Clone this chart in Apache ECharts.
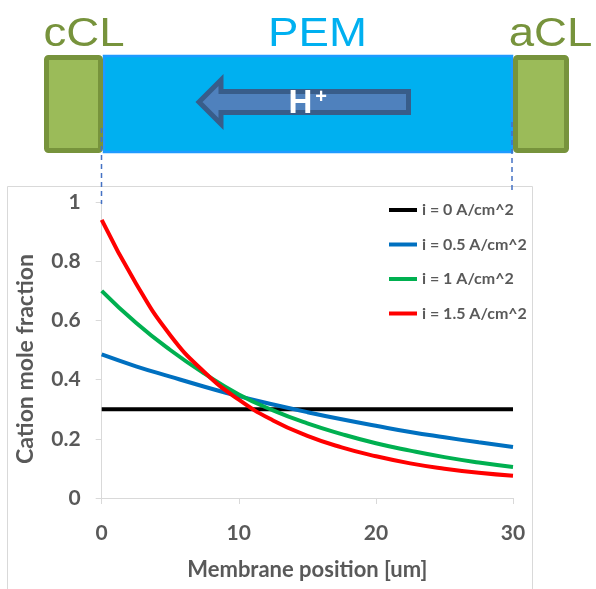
<!DOCTYPE html>
<html>
<head>
<meta charset="utf-8">
<script src="https://cdn.jsdelivr.net/npm/echarts@6/dist/echarts.min.js"></script>
<style>
html,body{margin:0;padding:0;background:#fff;}
#chart{width:596px;height:589px;}
</style>
</head>
<body>
<div id="chart"></div>
<script>
// ---- data ----
var positions = [0, 2.5, 5, 7.5, 10, 12.5, 15, 17.5, 20, 22.5, 25, 27.5, 30];
var seriesNames = ['i = 0 A/cm^2', 'i = 0.5 A/cm^2', 'i = 1 A/cm^2', 'i = 1.5 A/cm^2'];
var frac_i0   = [0.30, 0.30, 0.30, 0.30, 0.30, 0.30, 0.30, 0.30, 0.30, 0.30, 0.30, 0.30, 0.30];
var frac_i05  = [0.485, 0.445, 0.41, 0.376, 0.344, 0.316, 0.290, 0.266, 0.244, 0.223, 0.205, 0.188, 0.172];
var frac_i1   = [0.70, 0.592, 0.50, 0.420, 0.350, 0.296, 0.252, 0.216, 0.185, 0.160, 0.138, 0.120, 0.105];
var frac_i15  = [0.94, 0.725, 0.55, 0.425, 0.332, 0.262, 0.210, 0.171, 0.141, 0.117, 0.099, 0.085, 0.075];
var xTicks = [0, 10, 20, 30];
var yTicks = [0, 0.2, 0.4, 0.6, 0.8, 1];
var seriesColors = ['#000000', '#0070c0', '#00b050', '#ff0000'];
var topLabels = ['cCL', 'PEM', 'aCL', 'H', '+'];

function pairs(xs, ys) { return xs.map(function (x, i) { return [x, ys[i]]; }); }
var allValues = [frac_i0, frac_i05, frac_i1, frac_i15];

var chart = echarts.init(document.getElementById('chart'), null, {renderer: 'canvas'});
var labelColor = '#595959';
var chartFont = 'Lato';

var option = {
  backgroundColor: '#ffffff',
  animation: false,
  grid: {left: 101.7, right: 83, top: 202, bottom: 91},
  legend: {
    orient: 'vertical',
    left: 389, top: 200, padding: 0,
    itemWidth: 28, itemHeight: 4, itemGap: 14.5,
    icon: 'rect',
    data: seriesNames,
    textStyle: {color: labelColor, fontFamily: chartFont, fontSize: 16, fontWeight: 'bold', lineHeight: 20}
  },
  xAxis: {
    type: 'value', min: 0, max: 30, interval: 10,
    name: 'Membrane position [um]', nameLocation: 'middle', nameGap: 61,
    nameTextStyle: {color: labelColor, fontFamily: chartFont, fontSize: 22, fontWeight: 'bold'},
    axisLine: {show: true, lineStyle: {color: '#d9d9d9', width: 1}},
    axisTick: {show: true, length: 6, lineStyle: {color: '#d9d9d9'}},
    axisLabel: {color: labelColor, fontFamily: chartFont, fontSize: 21, fontWeight: 'bold', margin: 25,
      formatter: function (v) { return xTicks.indexOf(v) >= 0 ? String(v) : ''; }},
    splitLine: {show: false}
  },
  yAxis: {
    type: 'value', min: 0, max: 1, interval: 0.2,
    name: 'Cation mole fraction', nameLocation: 'middle', nameGap: 65,
    nameTextStyle: {color: labelColor, fontFamily: chartFont, fontSize: 23, fontWeight: 'bold', padding: [0, 18, 0, 0]},
    axisLine: {show: true, lineStyle: {color: '#d9d9d9', width: 1}},
    axisTick: {show: true, length: 6, lineStyle: {color: '#d9d9d9'}},
    axisLabel: {color: labelColor, fontFamily: chartFont, fontSize: 21, fontWeight: 'bold', margin: 21,
      formatter: function (v) { var r = Math.round(v * 10) / 10; return yTicks.indexOf(r) >= 0 ? String(r) : ''; }},
    splitLine: {show: false}
  },
  series: seriesNames.map(function (n, i) {
    return {
      name: n, type: 'line', smooth: 0.5, showSymbol: false, symbol: 'none',
      data: pairs(positions, allValues[i]),
      lineStyle: {color: seriesColors[i], width: 4},
      itemStyle: {color: seriesColors[i]},
      z: 2 + i
    };
  }),
  graphic: [
    // outer chart frame
    {type: 'rect', silent: true, z: -10, shape: {x: 7.5, y: 186.5, width: 525, height: 420},
      style: {fill: 'none', stroke: '#d9d9d9', lineWidth: 1}},
    // PEM membrane
    {type: 'rect', silent: true, z: 0, shape: {x: 104, y: 56, width: 408, height: 96},
      style: {fill: '#00b0f0', stroke: '#1e9bff', lineWidth: 2.5}},
    // cathode catalyst layer
    {type: 'rect', silent: true, z: 1, shape: {x: 46.5, y: 57.5, width: 54, height: 93, r: 2},
      style: {fill: '#9bbb59', stroke: '#77933c', lineWidth: 5}},
    // anode catalyst layer
    {type: 'rect', silent: true, z: 1, shape: {x: 515.5, y: 57.5, width: 51, height: 93, r: 2},
      style: {fill: '#9bbb59', stroke: '#77933c', lineWidth: 5}},
    // proton arrow
    {type: 'polygon', silent: true, z: 2,
      shape: {points: [[199, 102], [221, 80], [221, 91.5], [408.5, 91.5], [408.5, 112.5], [221, 112.5], [221, 124]]},
      style: {fill: '#4f81bd', stroke: '#385d8a', lineWidth: 5, lineJoin: 'miter'}},
    // dashed guide lines
    {type: 'line', silent: true, z: 3, shape: {x1: 101.5, y1: 128, x2: 101.5, y2: 204},
      style: {stroke: '#4472c4', lineWidth: 1.5, lineDash: [5, 4]}},
    {type: 'line', silent: true, z: 3, shape: {x1: 512, y1: 122, x2: 512, y2: 192},
      style: {stroke: '#4472c4', lineWidth: 1.5, lineDash: [5, 4]}},
    // labels
    {type: 'text', silent: true, z: 4, x: 84, y: 35, scaleX: 1.14, originX: 0, originY: 0,
      style: {text: topLabels[0], fill: '#77933c', font: '40px "Liberation Sans"', align: 'center', verticalAlign: 'middle'}},
    {type: 'text', silent: true, z: 4, x: 317.5, y: 35, scaleX: 1.14, originX: 0, originY: 0,
      style: {text: topLabels[1], fill: '#00b0f0', font: '40px "Liberation Sans"', align: 'center', verticalAlign: 'middle'}},
    {type: 'text', silent: true, z: 4, x: 550.5, y: 35, scaleX: 1.14, originX: 0, originY: 0,
      style: {text: topLabels[2], fill: '#77933c', font: '40px "Liberation Sans"', align: 'center', verticalAlign: 'middle'}},
    {type: 'text', silent: true, z: 4, x: 300.5, y: 104,
      style: {text: topLabels[3], fill: '#ffffff', font: 'bold 33px "Liberation Sans"', align: 'center', verticalAlign: 'middle'}},
    {type: 'text', silent: true, z: 4, x: 321, y: 97,
      style: {text: topLabels[4], fill: '#ffffff', font: 'bold 20px "Liberation Sans"', align: 'center', verticalAlign: 'middle'}}
  ]
};
chart.setOption(option);
</script>
</body>
</html>
